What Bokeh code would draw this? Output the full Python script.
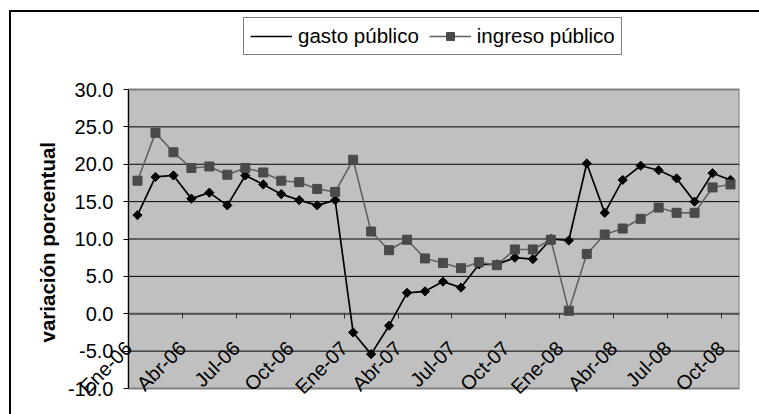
import math
from bokeh.plotting import figure
from bokeh.models import (ColumnDataSource, Legend, LegendItem, FixedTicker,
                          NumeralTickFormatter, Range1d, Title)
from bokeh.embed import file_html
from bokeh.resources import INLINE

# ---- data ----
months = ["Ene-06", "Feb-06", "Mar-06", "Abr-06", "May-06", "Jun-06", "Jul-06", "Ago-06",
          "Sep-06", "Oct-06", "Nov-06", "Dic-06",
          "Ene-07", "Feb-07", "Mar-07", "Abr-07", "May-07", "Jun-07", "Jul-07", "Ago-07",
          "Sep-07", "Oct-07", "Nov-07", "Dic-07",
          "Ene-08", "Feb-08", "Mar-08", "Abr-08", "May-08", "Jun-08", "Jul-08", "Ago-08",
          "Sep-08", "Oct-08"]
gasto = [13.2, 18.3, 18.5, 15.4, 16.2, 14.5, 18.5, 17.3, 16.0, 15.2, 14.5, 15.2,
         -2.5, -5.4, -1.6, 2.8, 3.0, 4.3, 3.5, 6.6, 6.6, 7.5, 7.3, 10.0,
         9.8, 20.1, 13.5, 17.9, 19.8, 19.2, 18.1, 15.0, 18.8, 17.9]
ingreso = [17.8, 24.2, 21.6, 19.5, 19.7, 18.6, 19.5, 18.9, 17.8, 17.6, 16.7, 16.3,
           20.6, 11.0, 8.5, 9.9, 7.4, 6.8, 6.1, 6.9, 6.5, 8.6, 8.6, 9.9,
           0.4, 8.0, 10.6, 11.4, 12.7, 14.2, 13.5, 13.5, 16.9, 17.3]
tick_labels = ["Ene-06", "Abr-06", "Jul-06", "Oct-06", "Ene-07", "Abr-07", "Jul-07",
               "Oct-07", "Ene-08", "Abr-08", "Jul-08", "Oct-08"]
y_ticks = [-10, -5, 0, 5, 10, 15, 20, 25, 30]
series_names = ["gasto público", "ingreso público"]
y_title = "variación porcentual"

FONT = "Liberation Sans"

idx = list(range(len(months)))
src = ColumnDataSource(dict(x=idx, gasto=gasto, ingreso=ingreso))

# ---- layout (pixels) ----
AREA_W, AREA_H = 611, 299      # grey plot area
PAD_L, PAD_T, PAD_B = 68, 81, 14  # frame room left / above / below the plot area
FRAME_W = AREA_W + PAD_L
FRAME_H = AREA_H + PAD_T + PAD_B

ymin, ymax = min(y_ticks), max(y_ticks)
xmin, xmax = -0.5, len(months) - 0.5
xu = (xmax - xmin) / AREA_W
yu = (ymax - ymin) / AREA_H

p = figure(frame_width=FRAME_W, frame_height=FRAME_H,
           x_range=Range1d(xmin - PAD_L * xu, xmax),
           y_range=Range1d(ymin - PAD_B * yu, ymax + PAD_T * yu),
           output_backend="svg", toolbar_location=None)
p.min_border_left = 60
p.min_border_top = 8
p.min_border_right = 20
p.min_border_bottom = 12
p.background_fill_color = None
p.border_fill_color = None
p.outline_line_color = None
# outer chart frame (left and top edges), drawn as the page background
p.styles = {"background": ("linear-gradient(#000, #000) 9px 10px / 2px 100% no-repeat, "
                           "linear-gradient(#000, #000) 9px 10px / 100% 2px no-repeat, "
                           "#ffffff")}

# grey plot area
p.quad(left=[xmin], right=[xmax], bottom=[ymin], top=[ymax],
       fill_color="#C0C0C0", line_color="#808080", line_width=2, level="image")

# horizontal gridlines across the plot area only
inner = y_ticks[1:-1]
p.xgrid.visible = False
p.ygrid.visible = False
p.segment(x0=[xmin] * len(inner), x1=[xmax] * len(inner), y0=inner, y1=inner,
          line_color="black", line_width=1, level="underlay")
# zero line (category axis crossing)
p.segment(x0=[xmin], x1=[xmax], y0=[0], y1=[0], line_color="#555555", line_width=2,
          level="underlay")

# y axis drawn at the left edge of the plot area
p.yaxis.fixed_location = xmin
p.yaxis.ticker = FixedTicker(ticks=y_ticks)
p.yaxis.bounds = (ymin, ymax)
p.yaxis.formatter = NumeralTickFormatter(format="0.0")
p.yaxis.axis_line_color = "black"
p.yaxis.major_tick_line_color = "black"
p.yaxis.major_tick_out = 5
p.yaxis.major_tick_in = 0
p.yaxis.minor_tick_line_color = None
p.yaxis.major_label_text_font = FONT
p.yaxis.major_label_text_font_size = "20px"
p.yaxis.major_label_text_color = "black"
p.yaxis.major_label_standoff = 10

# y title, placed along the grey plot area
ytitle = Title(text=y_title, align="left", vertical_align="middle",
               offset=60, standoff=2,
               text_font=FONT, text_font_size="20.5px", text_font_style="bold",
               text_color="black")
p.add_layout(ytitle, "left")

# x axis drawn at zero
tick_pos = [i - 0.5 + 1e-6 for i in idx[::3]]
p.xaxis.fixed_location = 0
p.xaxis.ticker = FixedTicker(ticks=tick_pos)
p.xaxis.major_label_overrides = {t: lab for t, lab in zip(tick_pos, tick_labels)}
p.xaxis.major_label_orientation = math.pi / 4
p.xaxis.major_label_standoff = 26
p.xaxis.major_label_text_font = FONT
p.xaxis.major_label_text_font_size = "20px"
p.xaxis.major_label_text_color = "black"
p.xaxis.axis_line_color = None
p.xaxis.major_tick_line_color = "#333333"
p.xaxis.major_tick_out = 5
p.xaxis.major_tick_in = 0
p.xaxis.minor_tick_line_color = None

# series
lg = p.line("x", "gasto", source=src, line_color="black", line_width=1.7)
sg = p.scatter("x", "gasto", source=src, marker="square", size=6.5, angle=math.pi / 4,
               fill_color="black", line_color="black")
li = p.line("x", "ingreso", source=src, line_color="#626262", line_width=1.6)
si = p.scatter("x", "ingreso", source=src, marker="square", size=9,
               fill_color="#4a4a4a", line_color="#4a4a4a")
# diamond swatch used only by the legend (no data of its own)
sg_key = p.scatter(x=[], y=[], marker="diamond", size=11,
                   fill_color="black", line_color="black")

legend = Legend(items=[LegendItem(label=series_names[0], renderers=[lg, sg_key]),
                       LegendItem(label=series_names[1], renderers=[li, si])],
                orientation="horizontal", location=(183, 347))
legend.label_text_font = FONT
legend.label_text_font_size = "20.5px"
legend.label_text_color = "black"
legend.border_line_color = "black"
legend.border_line_width = 1
legend.background_fill_color = "white"
legend.background_fill_alpha = 1
legend.glyph_width = 42
legend.glyph_height = 20
legend.label_standoff = 6
legend.spacing = 10
legend.padding = 6
legend.margin = 0
p.add_layout(legend)

open("out.html", "w").write(file_html(p, INLINE))
